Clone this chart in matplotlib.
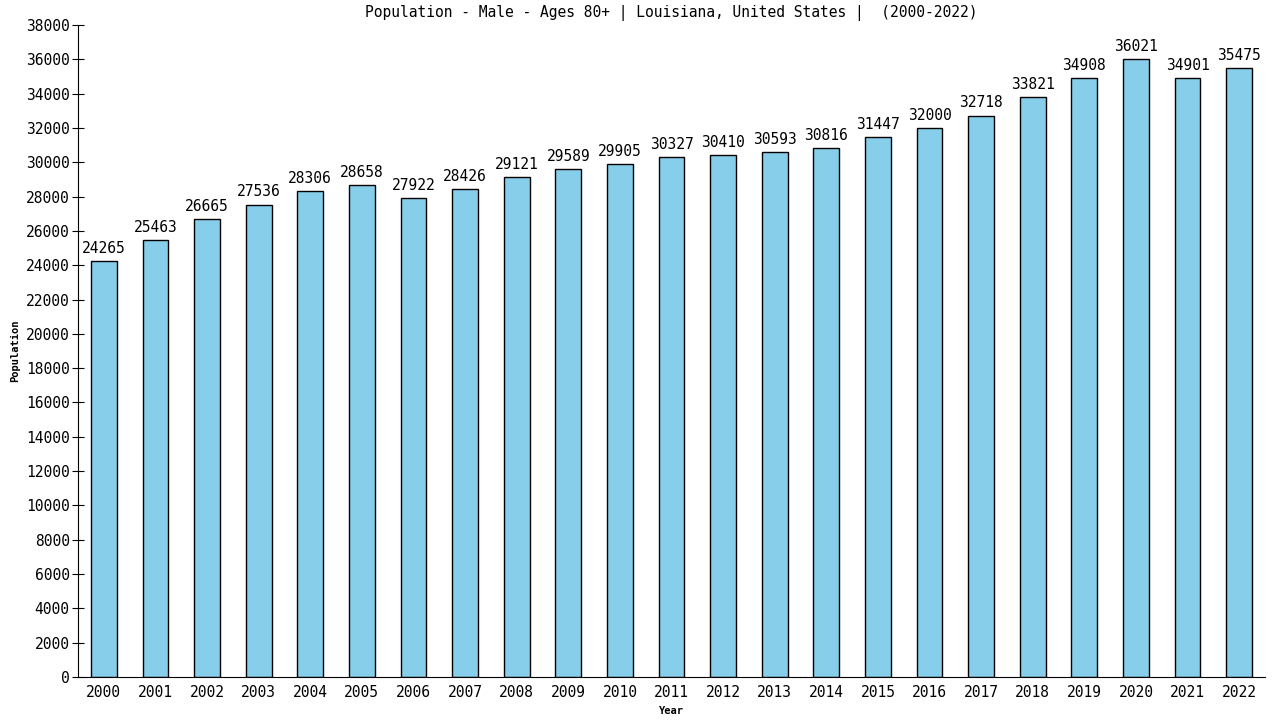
import matplotlib
matplotlib.use("Agg")
import matplotlib.pyplot as plt

years = [str(y) for y in range(2000, 2023)]
population = [24265, 25463, 26665, 27536, 28306, 28658, 27922, 28426, 29121, 29589,
              29905, 30327, 30410, 30593, 30816, 31447, 32000, 32718, 33821, 34908,
              36021, 34901, 35475]

plt.rcParams['font.family'] = ['DejaVu Sans Mono']

fig = plt.figure(figsize=(12.8, 7.2), dpi=100)
ax = fig.add_axes([78 / 1280, 1 - 677 / 720, (1265 - 78) / 1280, (677 - 25) / 720])

x = list(range(len(years)))
ax.bar(x, population, width=0.5, color='#87CEEB', edgecolor='black', linewidth=1)
for xi, v in zip(x, population):
    ax.text(xi, v + 300, str(v), ha='center', va='bottom', fontsize=10.5)

ax.set_xlim(-0.5, len(years) - 0.5)
ax.set_ylim(0, 38000)
ax.set_yticks(range(0, 38001, 2000))
ax.set_xticks(x)
ax.set_xticklabels(years)
ax.tick_params(axis='y', direction='inout', length=8, labelsize=10.5, pad=2)
ax.tick_params(axis='x', length=0, labelsize=10.5, pad=6)
ax.spines['top'].set_visible(False)
ax.spines['right'].set_visible(False)

ax.set_title('Population - Male - Ages 80+ | Louisiana, United States |  (2000-2022)',
             fontsize=10.5, pad=6)
ax.set_xlabel('Year', fontsize=7.5, fontweight='bold', labelpad=4)
ax.set_ylabel('Population', fontsize=7.5, fontweight='bold', labelpad=4)

fig.savefig('out.png', dpi=100)
